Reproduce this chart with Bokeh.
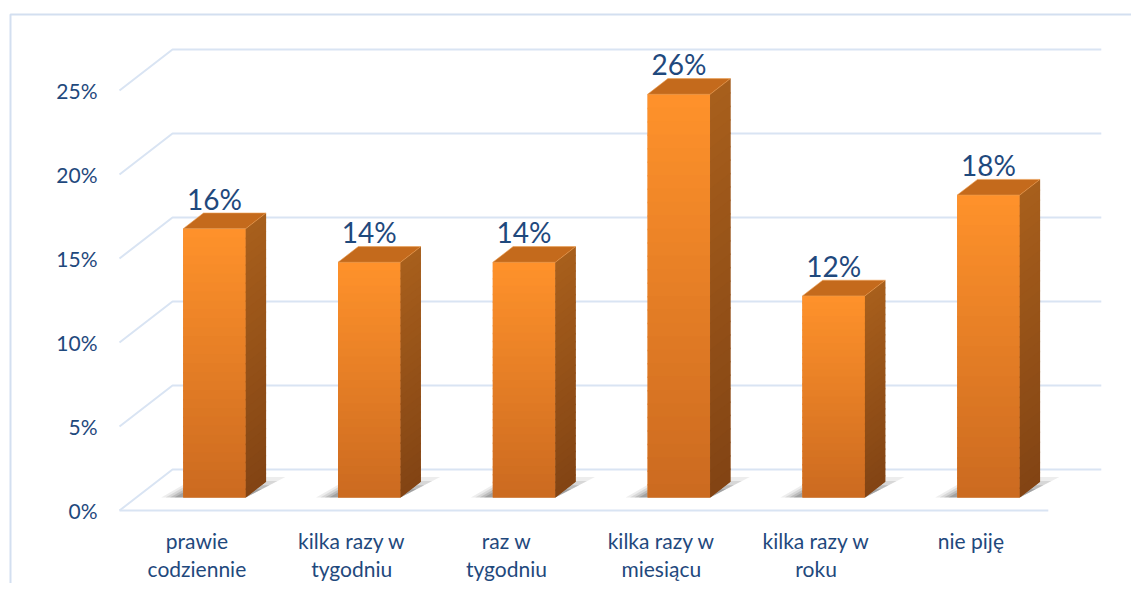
import numpy as np
from bokeh.plotting import figure
from bokeh.models import Range1d, ColumnDataSource
from bokeh.core.properties import value
from bokeh.embed import file_html
from bokeh.resources import INLINE

# ---------------- data ----------------
categories = ["prawie\ncodziennie", "kilka razy w\ntygodniu", "raz w\ntygodniu",
              "kilka razy w\nmiesiącu", "kilka razy w\nroku", "nie piję"]
bar_heights = [16, 14, 14, 24, 12, 18]          # drawn heights (% of scale)
bar_labels = ["16%", "14%", "14%", "26%", "12%", "18%"]
y_ticks = [0, 5, 10, 15, 20, 25]

# ---------------- geometry / style ----------------
W, H = 1131, 583
PX_X = 154.8      # pixels per category
PX_Y = 16.8       # pixels per percent
ORG_X, ORG_Y = 119, 510   # canvas px of the front floor origin
DX = 53 / PX_X    # full depth offset (x units)
DY = 41 / PX_Y    # full depth offset (y units)
F0, F1 = 0.317, 0.70      # bar front / back depth fractions
HALF = 0.202
N = len(categories)

TEXT = "#1F497D"
GRID = "#D9E4F3"
FONT = value("Lato")

p = figure(width=W, height=H, output_backend="svg", toolbar_location=None,
           x_range=Range1d(-ORG_X / PX_X, (W - ORG_X) / PX_X),
           y_range=Range1d(-(H - ORG_Y) / PX_Y, ORG_Y / PX_Y),
           x_axis_location=None, y_axis_location=None, min_border=0)
p.grid.visible = False
p.outline_line_color = None
p.background_fill_color = "white"
p.border_fill_color = "white"

# outer chart-area border (left and top edges visible in window)
bx = (10 - ORG_X) / PX_X
by = (ORG_Y - 14) / PX_Y
p.line([bx, bx, (W + 20 - ORG_X) / PX_X], [-(H + 20 - ORG_Y) / PX_Y, by, by],
       line_color="#D3DFF0", line_width=2)

# gridlines: left wall diagonal + back wall
gxs, gys = [], []
for v in y_ticks:
    gxs.append([0, DX, N + DX])
    gys.append([v, v + DY, v + DY])
gxs.append([0, N])
gys.append([0, 0])
p.multi_line(gxs, gys, line_color=GRID, line_width=2)

def proj(x, y, f):
    return x + f * DX, y + f * DY

def lerp(c1, c2, t):
    a = [int(c1[i:i + 2], 16) for i in (1, 3, 5)]
    b = [int(c2[i:i + 2], 16) for i in (1, 3, 5)]
    return "#%02x%02x%02x" % tuple(int(round(a[k] + (b[k] - a[k]) * t)) for k in range(3))

# soft shadows on the floor
for scale, alpha in [(1.0, 0.07), (0.8, 0.09), (0.6, 0.12), (0.4, 0.14)]:
    sx, sy = [], []
    for i, h in enumerate(bar_heights):
        c = i + 0.505
        xl, xr = c - HALF, c + HALF
        ext_l = 22 / PX_X * scale
        ext_t = 13 / PX_X * scale
        ft = F0 + (0.82 - F0) * scale
        pts = [proj(xl - ext_l, 0, F0), proj(xr, 0, F0),
               proj(xr + ext_t, 0, ft), proj(xl - ext_t, 0, ft)]
        sx.append([q[0] for q in pts])
        sy.append([q[1] for q in pts])
    p.patches(sx, sy, fill_color="black", fill_alpha=alpha, line_color=None)

# bars
NS = 30
OV = 1.5 / PX_Y
fq = dict(left=[], right=[], bottom=[], top=[], color=[])
sxs, sys_, scol = [], [], []
txs, tys = [], []
bfx, bfy, bsx, bsy = [], [], [], []
for i, h in enumerate(bar_heights):
    c = i + 0.505
    xl, xr = c - HALF, c + HALF
    pts = [proj(xl, 0, F0), proj(xr, 0, F0), proj(xr, h, F0), proj(xl, h, F0)]
    bfx.append([q[0] for q in pts]); bfy.append([q[1] for q in pts])
    pts = [proj(xr, 0, F0), proj(xr, 0, F1), proj(xr, h, F1), proj(xr, h, F0)]
    bsx.append([q[0] for q in pts]); bsy.append([q[1] for q in pts])
    for k in range(NS):
        t0 = k / NS
        t1 = (k + 1) / NS
        ytop = h * (1 - t0)
        ybot = max(h * (1 - t1) - OV, 0)
        fq["left"].append(xl + F0 * DX)
        fq["right"].append(xr + F0 * DX)
        fq["bottom"].append(ybot + F0 * DY)
        fq["top"].append(ytop + F0 * DY)
        fq["color"].append(lerp("#FF922B", "#CB6A20", (t0 + t1) / 2))
        pts = [proj(xr, ybot, F0), proj(xr, ybot, F1), proj(xr, ytop, F1), proj(xr, ytop, F0)]
        sxs.append([q[0] for q in pts])
        sys_.append([q[1] for q in pts])
        scol.append(lerp("#A85F1C", "#824414", (t0 + t1) / 2))
    pts = [proj(xl, h, F0), proj(xr, h, F0), proj(xr, h, F1), proj(xl, h, F1)]
    txs.append([q[0] for q in pts])
    tys.append([q[1] for q in pts])

p.patches(bfx, bfy, fill_color="#E67D25", line_color=None)
p.patches(bsx, bsy, fill_color="#955018", line_color=None)
p.quad(source=ColumnDataSource(fq), left="left", right="right", bottom="bottom", top="top",
       fill_color="color", line_color=None)
p.patches(sxs, sys_, fill_color=scol, line_color=None)
p.patches(txs, tys, fill_color="#C46A1C", line_color="#EC9E52", line_width=1, line_alpha=0.6)

# data labels
p.text(x=[i + 0.505 + F0 * DX for i in range(N)],
       y=[h + F0 * DY + 30 / PX_Y for h in bar_heights],
       text=bar_labels, text_align="center", text_baseline="middle",
       text_font=FONT, text_font_size="28px", text_color=TEXT)

# y tick labels
p.text(x=[(97 - ORG_X) / PX_X] * len(y_ticks), y=y_ticks,
       text=[f"{v}%" for v in y_ticks], text_align="right", text_baseline="middle",
       text_font=FONT, text_font_size="21px", text_color=TEXT)

# category labels
lx, ly, lt = [], [], []
for i, cat in enumerate(categories):
    for j, line in enumerate(cat.split("\n")):
        lx.append(i + 0.5)
        ly.append(-(30 + 28 * j) / PX_Y)
        lt.append(line)
p.text(x=lx, y=ly, text=lt, text_align="center", text_baseline="middle",
       text_font=FONT, text_font_size="21px", text_color=TEXT)

open("out.html", "w").write(file_html(p, INLINE))
